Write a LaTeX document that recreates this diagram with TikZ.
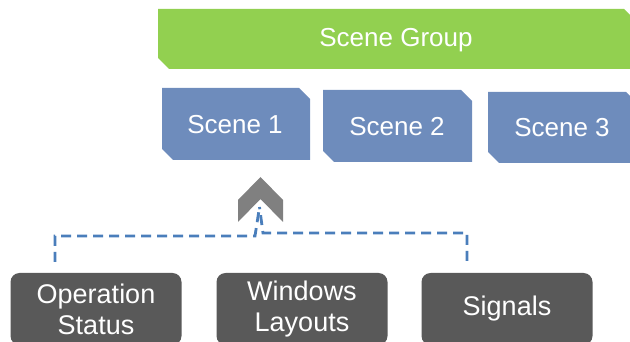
\documentclass[tikz,border=0pt]{standalone}
\usepackage{fontspec}
\setmainfont{Liberation Sans}
\definecolor{sgreen}{HTML}{92D050}
\definecolor{sblue}{HTML}{6E8CBC}
\definecolor{dgray}{HTML}{595959}
\definecolor{cgray}{HTML}{808080}
\definecolor{lblue}{HTML}{4A7EBB}
\begin{document}
\begin{tikzpicture}[x=1pt,y=-1pt,
  lbl/.style={text=white,font=\fontsize{26}{31}\selectfont,align=center,inner sep=0pt},
  darkbox/.style={fill=dgray,rounded corners=9pt,minimum width=171pt,minimum height=72pt,text=white,font=\fontsize{27}{31}\selectfont,align=center,inner sep=0pt},
  dashln/.style={draw=lblue,line width=2.8pt,dash pattern=on 10pt off 6pt}]
\useasboundingbox (0,0) rectangle (630,342);
% scene group
\fill[sgreen] (158,9) -- (624,9) -- (634,19) -- (634,69) -- (169,69) -- (158,58) -- cycle;
\node[lbl] (grp) at (396,40) {Scene Group};
% scenes
\fill[sblue] (162,88) -- (299,88) -- (310,99) -- (310,160) -- (173,160) -- (162,149) -- cycle;
\node[lbl] (s1) at (235,125) {Scene 1};
\fill[sblue] (323,90) -- (461,90) -- (472,101) -- (472,162) -- (334,162) -- (323,151) -- cycle;
\node[lbl] (s2) at (397,127) {Scene 2};
\fill[sblue] (488,92) -- (626,92) -- (637,103) -- (637,163) -- (499,163) -- (488,152) -- cycle;
\node[lbl] (s3) at (562,128) {Scene 3};
% chevron
\fill[cgray] (238,200) -- (260.5,177) -- (283,200) -- (283,222) -- (260.5,199) -- (238,222) -- cycle;
\coordinate (chev) at (259.5,207);
% bottom boxes
\node[darkbox] (os) at (96,309) {Operation\\Status};
\node[darkbox] (wl) at (302,309) {Windows\\Layouts};
\node[darkbox] (sg) at (507,309) {Signals};
% connectors
\coordinate (l1) at (55,262);
\coordinate (jl) at (255,236);
\coordinate (r1) at (467,261);
\coordinate (jr) at (263,233);
\draw[dashln] (l1) |- (jl) -- (chev);
\draw[dashln] (r1) |- (jr) -- (chev);
\end{tikzpicture}
\end{document}
